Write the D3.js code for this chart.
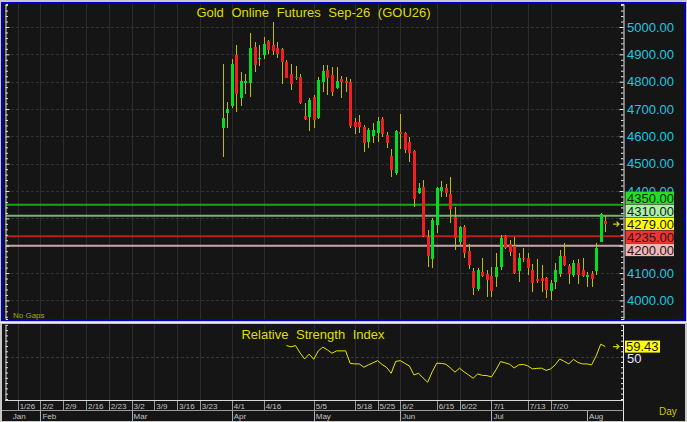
<!DOCTYPE html>
<html>
<head>
<meta charset="utf-8">
<script src="https://cdn.jsdelivr.net/npm/d3@7"></script>
<style>
  body { margin: 0; background: #c8c8c8; }
  svg { display: block; font-family: "Liberation Sans", Arial, sans-serif; }
</style>
</head>
<body>
<div id="chart"></div>
<script>
// Daily candles, first one is bar index 0 (late March)
const opens = [4632,4687,4712,4898,4740,4798,4796,4928,4884,4898,4949,4934,4922,4918,4873,4827,4818,4817,4675,4672,
  4745,4666,4800,4843,4824,4778,4810,4802,4800,4654,4651,4633,4581,4601,4613,4662,4605,4528,4465,4616,
  4611,4581,4548,4392,4414,4233,4151,4276,4400,4410,4389,4306,4215,4268,4181,4108,4041,4105,4097,4090,
  4085,4121,4237,4207,4200,4109,4156,4156,4112,4079,4081,4083,4035,4069,4097,4163,4126,4093,4138,4112,
  4087,4096,4108,4215,4291];
const highs = [4864,4725,4882,4934,4834,4829,4977,4944,4934,4964,4952,5017,4946,4922,4879,4864,4857,4827,4721,4741,
  4751,4816,4861,4861,4853,4853,4821,4818,4810,4666,4678,4642,4630,4648,4672,4672,4617,4553,4623,4682,
  4617,4599,4550,4428,4440,4258,4300,4414,4437,4425,4450,4341,4272,4276,4207,4118,4118,4156,4112,4124,
  4173,4239,4239,4221,4233,4173,4191,4173,4132,4151,4130,4087,4075,4136,4185,4211,4133,4148,4151,4156,
  4105,4109,4209,4321,4309];
const lows = [4526,4632,4703,4690,4712,4755,4743,4836,4858,4883,4900,4898,4888,4792,4812,4770,4806,4718,4660,4620,
  4630,4662,4763,4751,4749,4773,4741,4763,4630,4609,4611,4544,4556,4575,4581,4599,4556,4450,4459,4553,
  4538,4507,4343,4389,4233,4124,4118,4246,4380,4380,4284,4185,4203,4154,4114,4020,4036,4087,4014,4014,
  4050,4112,4187,4163,4097,4069,4142,4093,4032,4063,4032,4008,4002,4041,4087,4126,4060,4087,4060,4087,
  4050,4050,4093,4213,4252];
const closes = [4666,4700,4865,4755,4802,4802,4924,4861,4887,4938,4916,4913,4901,4873,4815,4792,4812,4723,4664,4733,
  4660,4806,4839,4812,4763,4802,4800,4796,4638,4636,4635,4577,4623,4623,4657,4608,4575,4477,4620,4610,
  4550,4540,4371,4410,4236,4163,4294,4411,4414,4392,4336,4227,4270,4175,4130,4045,4112,4090,4075,4035,
  4124,4230,4193,4176,4099,4156,4151,4118,4065,4072,4072,4038,4065,4112,4163,4130,4096,4138,4093,4091,
  4092,4078,4191,4316,4279];

// RSI starts at bar 14
const rsiStart = 14;
const rsiValues = [60.4,59.2,60.4,53.5,47.8,52.3,47.5,55.4,58.9,56.3,
  53.2,55.4,55.4,55.4,43.6,43.1,43.1,40.0,42.2,44.1,
  46.2,42.6,39.8,34.3,45.5,46.2,43.6,41.2,32.7,34.3,
  29.9,25.8,35.6,43.8,43.6,42.8,39.3,35.3,39.1,35.6,
  32.7,29.6,33.7,32.3,32.1,30.8,37.5,45.3,44.1,42.8,
  39.3,42.2,42.6,41.2,38.4,38.9,39.1,37.0,38.4,42.2,
  47.8,45.5,43.1,47.4,44.5,43.1,43.1,42.2,50.7,61.7,
  59.43];

// time axis labels (bar index of each label)
const weekLabels = ["1/26","2/2","2/9","2/16","2/23","3/2","3/9","3/16","3/23","4/1","4/16","5/5","5/18","5/25","6/2","6/15","6/22","7/1","7/13","7/20"];
const weekIdx = [-45,-40,-35,-30,-25,-20,-15,-10,-5,2,9,20,29,34,39,47,52,59,67,72];
const monthLabels = ["Jan","Feb","Mar","Apr","May","Jun","Jul","Aug"];
const monthIdx = [-46.5,-40,-20,2,20,39,59,80];

// price levels with labels on the axis
const levelPrices = [4350, 4310, 4235, 4200];
const levelColors = ["#14a814", "#78b078", "#c01c1c", "#c4a4a4"];
const tagPrices = [4350, 4310, 4279, 4235, 4200];
const tagColors = ["#22e022", "#a8f0a8", "#ffff00", "#f03434", "#f2b6b6"];
const lastPrice = 4279;
const lastRsi = 59.43;

const W = 687, H = 422;
const svg = d3.select("#chart").append("svg")
    .attr("width", W)
    .attr("height", H);

svg.append("rect").attr("width", W).attr("height", H).attr("fill", "#c8c8c8");

// scales
const xScale = d3.scaleLinear().domain([-48, 88]).range([4, 623.5]);
const yPrice = d3.scaleLinear().domain([3932, 5084]).range([319, 4]);
const yRsi = d3.scaleLinear().domain([10, 80]).range([399, 324.8]);
const px = i => Math.round(xScale(i)) + 0.5;

// panes
svg.append("rect")
    .attr("x", 2).attr("y", 3).attr("width", 683).attr("height", 317)
    .attr("fill", "#151515")
    .attr("stroke", "#0000c8").attr("stroke-width", 2);
svg.append("line").attr("x1", 0).attr("x2", W).attr("y1", 322.5).attr("y2", 322.5)
    .attr("stroke", "#efefef");
svg.append("rect")
    .attr("x", 2).attr("y", 324).attr("width", 683).attr("height", 97)
    .attr("fill", "#151515");

svg.append("clipPath").attr("id", "mainClip")
    .append("rect").attr("x", 4).attr("y", 4).attr("width", 619).attr("height", 315);

const main = svg.append("g").attr("clip-path", "url(#mainClip)");

// grid lines
main.selectAll(".vgrid").data(weekIdx).enter().append("line")
    .attr("x1", px).attr("x2", px).attr("y1", 4).attr("y2", 319)
    .attr("stroke", "#2c2c2c");
main.selectAll(".hgrid").data(d3.range(4000, 5001, 100)).enter().append("line")
    .attr("x1", 6).attr("x2", 623)
    .attr("y1", d => Math.round(yPrice(d)) + 0.5).attr("y2", d => Math.round(yPrice(d)) + 0.5)
    .attr("stroke", "#333").attr("stroke-dasharray", "3,2");

// level lines
main.selectAll(".level").data(levelPrices).enter().append("line")
    .attr("x1", 6).attr("x2", 623)
    .attr("y1", d => yPrice(d)).attr("y2", d => yPrice(d))
    .attr("stroke", (d, i) => levelColors[i]).attr("stroke-width", 2);

// candles
const bars = d3.range(closes.length);
main.selectAll(".wick").data(bars).enter().append("line")
    .attr("x1", px).attr("x2", px)
    .attr("y1", i => yPrice(highs[i])).attr("y2", i => yPrice(lows[i]))
    .attr("stroke", "#bebe00").attr("stroke-width", 1)
    .attr("shape-rendering", "crispEdges");
main.selectAll(".body").data(bars).enter().append("rect")
    .attr("x", i => Math.round(xScale(i)) - 1)
    .attr("width", 3)
    .attr("y", i => yPrice(Math.max(opens[i], closes[i])))
    .attr("height", i => Math.max(1.5, Math.abs(yPrice(opens[i]) - yPrice(closes[i]))))
    .attr("fill", i => closes[i] >= opens[i] ? "#00e020" : "#f02020")
    .attr("shape-rendering", "crispEdges");

// title
svg.append("text")
    .attr("x", 313.5).attr("y", 16.5)
    .attr("text-anchor", "middle")
    .attr("font-size", "13px").attr("word-spacing", "4px")
    .attr("fill", "#dede00")
    .text("Gold Online Futures Sep-26 (GOU26)");

svg.append("text")
    .attr("x", 13).attr("y", 318)
    .attr("font-size", "8px").attr("fill", "#a8a800")
    .text("No Gaps");

// left axis (ticks only)
const priceMinor = d3.range(3940, 5081, 20);
svg.append("g")
    .attr("transform", "translate(5.5,0)")
    .call(d3.axisRight(yPrice).tickValues(priceMinor).tickFormat("").tickSizeOuter(0)
        .tickSize(2.5))
    .call(g => g.select(".domain").attr("stroke", "#e0e0e0"))
    .call(g => g.selectAll(".tick line").attr("stroke", "#e0e0e0")
        .attr("x2", d => d % 100 === 0 ? 4 : 2.5));

// right axis
svg.append("g")
    .attr("transform", "translate(623.5,0)")
    .call(d3.axisLeft(yPrice).tickValues(priceMinor).tickFormat("").tickSizeOuter(0)
        .tickSize(2.5))
    .call(g => g.select(".domain").attr("stroke", "#e8e8e8"))
    .call(g => g.selectAll(".tick line").attr("stroke", "#e8e8e8")
        .attr("x2", d => d % 100 === 0 ? -4 : -2.5));

// stacked price tags, pushed apart from the last-price tag
const tagY = tagPrices.map(p => yPrice(p));
const anchor = tagPrices.indexOf(lastPrice);
for (let i = anchor - 1; i >= 0; i--) tagY[i] = Math.min(tagY[i], tagY[i + 1] - 13);
for (let i = anchor + 1; i < tagY.length; i++) tagY[i] = Math.max(tagY[i], tagY[i - 1] + 13);

// axis labels that sit under a tag are hidden by it
const covered = p => tagY.some(t => Math.abs(yPrice(p) - t) < 6.5);
svg.append("g")
    .attr("transform", "translate(623,0)")
    .call(d3.axisRight(yPrice).tickValues(d3.range(4000, 5001, 100).filter(p => !covered(p)))
        .tickFormat(d3.format(".2f")).tickSize(0).tickPadding(4))
    .call(g => g.select(".domain").remove())
    .call(g => g.selectAll("text").attr("fill", "#1ec8e0").attr("font-size", "13px")
        .attr("font-family", "'Liberation Sans', Arial, sans-serif"));

const tags = svg.selectAll(".tag").data(tagPrices).enter().append("g")
    .attr("transform", (d, i) => `translate(625.5,${tagY[i]})`);
tags.append("rect")
    .attr("x", 0).attr("y", -6.5).attr("width", 48.5).attr("height", 12.5)
    .attr("fill", (d, i) => tagColors[i]);
tags.append("text")
    .attr("x", 1.5).attr("y", 5)
    .attr("font-size", "13px").attr("fill", "#1a1a1a")
    .text(d => d3.format(".2f")(d));

function arrow(x, y) {
    svg.append("path")
        .attr("d", `M${x - 6},${y} L${x},${y} M${x - 2.5},${y - 2.5} L${x},${y} L${x - 2.5},${y + 2.5}`)
        .attr("stroke", "#d0d000").attr("stroke-width", 1.3).attr("fill", "none");
}
arrow(619, yPrice(lastPrice));

// RSI pane
const rsiG = svg.append("g");
rsiG.selectAll(".vgrid").data(weekIdx).enter().append("line")
    .attr("x1", px).attr("x2", px).attr("y1", 325).attr("y2", 400)
    .attr("stroke", "#2c2c2c");
rsiG.append("line")
    .attr("x1", 6).attr("x2", 623)
    .attr("y1", Math.round(yRsi(50)) + 0.5).attr("y2", Math.round(yRsi(50)) + 0.5)
    .attr("stroke", "#3a3a3a").attr("stroke-dasharray", "3,2");

const rsiLine = d3.line()
    .x((d, i) => xScale(rsiStart + i))
    .y(d => yRsi(d));
rsiG.append("path")
    .datum(rsiValues)
    .attr("d", rsiLine)
    .attr("fill", "none").attr("stroke", "#e6e600").attr("stroke-width", 1);

svg.append("text")
    .attr("x", 313).attr("y", 338.5)
    .attr("text-anchor", "middle")
    .attr("font-size", "13px").attr("word-spacing", "4px")
    .attr("fill", "#dede00")
    .text("Relative Strength Index");

const rsiTicks = d3.range(10, 81, 5);
svg.append("g")
    .attr("transform", "translate(5.5,0)")
    .call(d3.axisRight(yRsi).tickValues(rsiTicks).tickFormat("").tickSize(2.5).tickSizeOuter(0))
    .call(g => g.select(".domain").attr("stroke", "#e0e0e0"))
    .call(g => g.selectAll(".tick line").attr("stroke", "#e0e0e0"));
svg.append("g")
    .attr("transform", "translate(623.5,0)")
    .call(d3.axisLeft(yRsi).tickValues(rsiTicks).tickFormat("").tickSize(2.5).tickSizeOuter(0))
    .call(g => g.select(".domain").remove())
    .call(g => g.selectAll(".tick line").attr("stroke", "#e8e8e8"));
svg.append("line").attr("x1", 623.5).attr("x2", 623.5).attr("y1", 325).attr("y2", 421)
    .attr("stroke", "#e8e8e8");

svg.append("text")
    .attr("x", 627).attr("y", yRsi(50) + 6)
    .attr("font-size", "13px").attr("fill", "#e8e8ff")
    .text("50");
svg.append("rect")
    .attr("x", 625).attr("y", yRsi(lastRsi) - 6).attr("width", 35).attr("height", 12)
    .attr("fill", "#ffff00");
svg.append("text")
    .attr("x", 626).attr("y", yRsi(lastRsi) + 4.8)
    .attr("font-size", "13px").attr("fill", "#1a1a1a")
    .text(d3.format(".2f")(lastRsi));
arrow(619, yRsi(lastRsi));

// time axis rows
svg.append("line").attr("x1", 5).attr("x2", 623.5).attr("y1", 400.5).attr("y2", 400.5)
    .attr("stroke", "#d8d8d8");
svg.append("line").attr("x1", 2).attr("x2", 623.5).attr("y1", 410.5).attr("y2", 410.5)
    .attr("stroke", "#9a9a9a");

svg.selectAll(".wsep").data(weekIdx).enter().append("line")
    .attr("x1", px).attr("x2", px).attr("y1", 401).attr("y2", 410)
    .attr("stroke", "#9a9a9a");
svg.selectAll(".wlab").data(weekLabels).enter().append("text")
    .attr("x", (d, i) => xScale(weekIdx[i]) + 2)
    .attr("y", 408.5)
    .attr("font-size", "8px").attr("fill", "#c4c4c4")
    .text(d => d);

svg.selectAll(".msep").data(monthIdx.slice(1)).enter().append("line")
    .attr("x1", px).attr("x2", px).attr("y1", 411).attr("y2", 421)
    .attr("stroke", "#b0b0b0");
svg.selectAll(".mlab").data(monthLabels).enter().append("text")
    .attr("x", (d, i) => xScale(monthIdx[i]) + 2)
    .attr("y", 419)
    .attr("font-size", "8px").attr("fill", "#c4c4c4")
    .text(d => d);

svg.append("text")
    .attr("x", 659).attr("y", 414.5)
    .attr("font-size", "10px").attr("fill", "#c8c800")
    .text("Day");
</script>
</body>
</html>
